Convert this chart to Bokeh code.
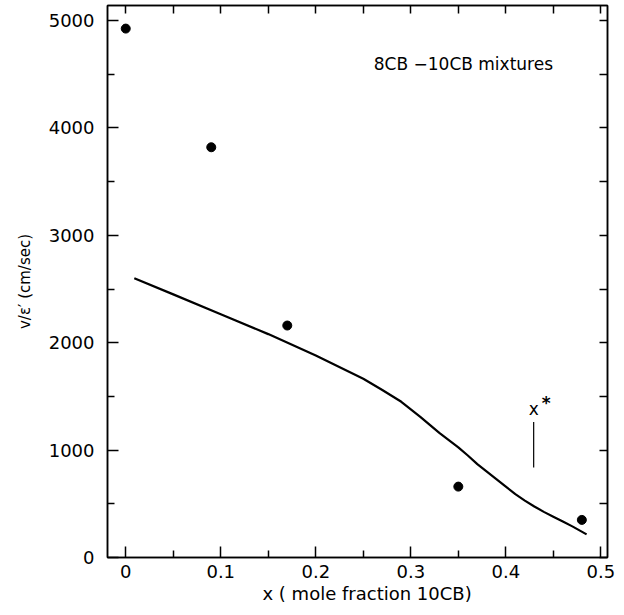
from bokeh.plotting import figure
from bokeh.models import Range1d, FixedTicker, LinearAxis, Label, Title
from bokeh.embed import file_html
from bokeh.resources import INLINE

# ---- data ----
x_major_ticks = [0, 0.1, 0.2, 0.3, 0.4, 0.5]
x_tick_labels = ["0", "0.1", "0.2", "0.3", "0.4", "0.5"]
x_minor_ticks = [0.05, 0.15, 0.25, 0.35, 0.45]
y_major_ticks = [0, 1000, 2000, 3000, 4000, 5000]
y_tick_labels = ["0", "1000", "2000", "3000", "4000", "5000"]
y_minor_ticks = [500, 1500, 2500, 3500, 4500]

dot_x = [0.0, 0.09, 0.17, 0.35, 0.48]
dot_y = [4925, 3820, 2160, 660, 350]

curve_x = [0.009, 0.05, 0.10, 0.15, 0.20, 0.25, 0.27, 0.29, 0.31, 0.32, 0.33,
           0.35, 0.36, 0.37, 0.38, 0.39, 0.40, 0.41, 0.42, 0.43, 0.44,
           0.45, 0.46, 0.47, 0.485]
curve_y = [2600, 2450, 2265, 2080, 1880, 1665, 1560, 1450, 1310, 1235, 1160,
           1025, 950, 870, 800, 730, 660, 590, 530, 475, 425,
           380, 335, 290, 215]

xstar_x = [0.4293]
xstar_y0 = [837]
xstar_y1 = [1261]

FONT = "DejaVu Sans"

p = figure(width=616, height=615,
           x_range=Range1d(-0.0192, 0.507), y_range=Range1d(0, 5140),
           output_backend="svg", toolbar_location=None,
           min_border_left=107, min_border_right=9,
           min_border_top=5, min_border_bottom=58)

p.grid.visible = False
p.outline_line_color = "black"
p.outline_line_width = 1.5
p.background_fill_color = "white"
p.border_fill_color = "white"

xt = FixedTicker(ticks=x_major_ticks, minor_ticks=x_minor_ticks)
yt = FixedTicker(ticks=y_major_ticks, minor_ticks=y_minor_ticks)

def style(ax, labels=True):
    ax.axis_line_color = "black"
    ax.axis_line_width = 1.5
    ax.major_tick_line_color = "black"
    ax.minor_tick_line_color = "black"
    ax.major_tick_line_width = 1.5
    ax.minor_tick_line_width = 1.5
    ax.major_tick_in = 11
    ax.major_tick_out = 0
    ax.minor_tick_in = 7
    ax.minor_tick_out = 0
    ax.major_label_text_font = FONT
    ax.major_label_text_font_size = "18px"
    ax.major_label_text_font_style = "normal"
    ax.major_label_text_color = "black"
    if not labels:
        ax.major_label_text_font_size = "0px"
        ax.major_label_text_color = None
        ax.major_label_standoff = 0

xa = p.xaxis[0]
xa.ticker = xt
xa.major_label_overrides = {t: l for t, l in zip(x_major_ticks, x_tick_labels)}
style(xa)
xa.major_label_standoff = 7

ya = p.yaxis[0]
ya.ticker = yt
ya.major_label_overrides = {t: l for t, l in zip(y_major_ticks, y_tick_labels)}
style(ya)
ya.major_label_standoff = 13
ya.axis_label = "v/ε′ (cm/sec)"
ya.axis_label_text_font = FONT
ya.axis_label_text_font_size = "15px"
ya.axis_label_text_font_style = "normal"
ya.axis_label_text_color = "black"
ya.axis_label_standoff = 12

top = LinearAxis(ticker=FixedTicker(ticks=x_major_ticks + x_minor_ticks))
style(top, labels=False)
top.major_tick_in = 8
top.minor_tick_in = 0
p.add_layout(top, "above")

right = LinearAxis(ticker=FixedTicker(ticks=y_major_ticks + y_minor_ticks))
style(right, labels=False)
right.major_tick_in = 8
right.minor_tick_in = 0
p.add_layout(right, "right")

# x-axis title, placed slightly right of centre as in the reference
p.add_layout(Title(text="x ( mole fraction 10CB)", align="left", offset=155,
                   text_font=FONT, text_font_size="18px",
                   text_font_style="normal", text_color="black",
                   standoff=1), "below")

p.line(curve_x, curve_y, line_color="black", line_width=2.2)
p.scatter(dot_x, dot_y, size=9, color="black")
p.segment(x0=xstar_x, y0=xstar_y0, x1=xstar_x, y1=xstar_y1,
          line_color="black", line_width=1.2)

p.add_layout(Label(x=0.261, y=4598, text="8CB −10CB  mixtures",
                   text_font=FONT, text_font_size="17px", text_font_style="normal",
                   text_color="black",
                   text_baseline="middle", text_align="left"))
p.add_layout(Label(x=0.4293, y=1380, text="x",
                   text_font=FONT, text_font_size="17px", text_font_style="normal",
                   text_color="black",
                   text_baseline="middle", text_align="center"))
p.add_layout(Label(x=0.4426, y=1435, text="*",
                   text_font=FONT, text_font_size="17px", text_font_style="bold",
                   text_color="black",
                   text_baseline="middle", text_align="center"))

open("out.html", "w").write(file_html(p, INLINE))
